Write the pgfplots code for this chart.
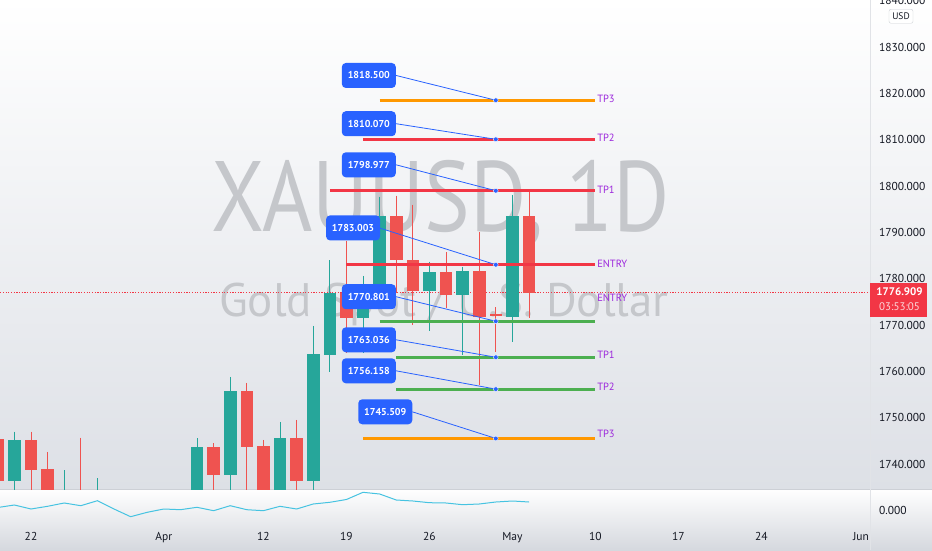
\documentclass[border=0pt]{standalone}
\usepackage{pgfplots}
\pgfplotsset{compat=1.18}
\usepackage{fontspec}
\setmainfont{PT Sans}
\definecolor{cup}{RGB}{38,166,154}
\definecolor{cdown}{RGB}{239,83,80}
\definecolor{lvred}{RGB}{242,54,69}
\definecolor{lvgreen}{RGB}{76,175,80}
\definecolor{lvorange}{RGB}{255,152,0}
\definecolor{boxblue}{RGB}{41,98,255}
\definecolor{tplbl}{RGB}{156,39,220}
\definecolor{wm}{RGB}{197,199,203}
\definecolor{bgb}{RGB}{221,224,230}
\definecolor{bgc}{RGB}{213,216,222}
\definecolor{ind}{RGB}{70,195,225}
\definecolor{txt}{RGB}{19,23,34}
\definecolor{sep}{RGB}{205,208,214}
\definecolor{pricered}{RGB}{242,54,69}

% candle: index, open, high, low, close
\newcommand\candle[5]{%
  \ifdim #5pt<#2pt \def\cc{cdown}\else\def\cc{cup}\fi
  \pgfmathsetmacro\candL{#1-0.38}\pgfmathsetmacro\candR{#1+0.38}%
  \edef\next{%
    \noexpand\addplot[draw=\cc, line width=1pt, forget plot] coordinates {(#1,#3) (#1,#4)};%
    \noexpand\addplot[fill=\cc, draw=none, forget plot] coordinates {(\candL,#2) (\candR,#2) (\candR,#5) (\candL,#5)};%
  }\next}

\begin{document}
\begin{tikzpicture}[x=1pt,y=1pt]
\useasboundingbox (0,0) rectangle (932,550);
\clip (0,0) rectangle (932,550);
\shade[top color=white, bottom color=bgb] (0,61) rectangle (932,550);
\shade[top color=white, bottom color=bgc] (0,0) rectangle (932,61);
\draw[line width=1pt, sep] (0,61) -- (932,61);
\draw[line width=0.6pt, sep!60!white] (870,0) -- (870,550);
% watermark
\node[anchor=base west, inner sep=0, text=wm, font=\fontsize{100}{100}\selectfont, xscale=0.86] at (211.7,318.3) {XAUUSD, 1D};
\node[anchor=base west, inner sep=0, text=wm, font=\fontsize{47}{47}\selectfont] at (219,233.3) {Gold Spot / U.S. Dollar};

\begin{axis}[at={(0pt,61pt)}, anchor=south west, scale only axis,
  width=870pt, height=489pt,
  xmin=-1.8675, xmax=50.54, ymin=1734.60, ymax=1840.14,
  axis line style={draw=none}, tick style={draw=none},
  xtick=\empty,
  ytick={1740,1750,...,1840},
  yticklabels={1740.000,1750.000,1760.000,1770.000,1780.000,1790.000,1800.000,1810.000,1820.000,1830.000,1840.000},
  yticklabel pos=right,
  yticklabel style={anchor=west, xshift=5.5pt, font=\fontsize{11.5}{12}\selectfont, text=txt},
  clip=true]
% current price line
\addplot[draw=pricered, line width=1pt, dash pattern=on 1.2pt off 1.5pt, forget plot] coordinates {(-3,1776.909) (52,1776.909)};
% candles
\candle{-2}{1745.4}{1746.5}{1730}{1736.4}
\candle{-1}{1736.4}{1747.0}{1730}{1745.2}
\candle{0}{1745.2}{1747.0}{1730}{1738.7}
\candle{1}{1738.9}{1742.6}{1725}{1728}
\candle{2}{1720}{1738.7}{1715}{1730}
\candle{3}{1731}{1745.7}{1718}{1722}
\candle{4}{1715}{1736.9}{1710}{1728}
\candle{10}{1728}{1745.5}{1725}{1743.6}
\candle{11}{1743.6}{1744.5}{1727}{1737.6}
\candle{12}{1737.6}{1758.8}{1731}{1755.8}
\candle{13}{1755.8}{1757.5}{1732}{1743.6}
\candle{14}{1743.9}{1745.2}{1731}{1733}
\candle{15}{1733}{1749.1}{1731}{1745.5}
\candle{16}{1745.5}{1749.5}{1733}{1736.4}
\candle{17}{1736.4}{1769.8}{1733}{1763.7}
\candle{18}{1763.5}{1784.0}{1759.9}{1776.8}
\candle{19}{1776.8}{1788.2}{1764}{1771.4}
\candle{20}{1771.4}{1780.6}{1764}{1778}
\candle{21}{1777.5}{1797.7}{1776}{1793.6}
\candle{22}{1793.6}{1797.9}{1777}{1784.0}
\candle{23}{1784.0}{1796.0}{1770.0}{1777.3}
\candle{24}{1777.3}{1783.7}{1768.8}{1781.4}
\candle{25}{1781.4}{1785.8}{1773.6}{1776.5}
\candle{26}{1776.5}{1782.6}{1763.5}{1781.7}
\candle{27}{1781.7}{1790.1}{1757.0}{1771.8}
\candle{28}{1772.3}{1773.8}{1764.2}{1771.9}
\candle{29}{1771.8}{1798.1}{1766.3}{1793.6}
\candle{30}{1793.6}{1798.8}{1771.4}{1776.9}
% level lines
\addplot[lvorange, line width=3pt] coordinates {(21,1818.5) (33.95,1818.5)};
\addplot[lvred, line width=3pt] coordinates {(20,1810.07) (33.95,1810.07)};
\addplot[lvred, line width=3pt] coordinates {(18,1798.977) (33.95,1798.977)};
\addplot[lvred, line width=3pt] coordinates {(19,1783.003) (33.95,1783.003)};
\addplot[lvgreen, line width=3pt] coordinates {(21,1770.801) (33.95,1770.801)};
\addplot[lvgreen, line width=3pt] coordinates {(22,1763.036) (33.95,1763.036)};
\addplot[lvgreen, line width=3pt] coordinates {(22,1756.158) (33.95,1756.158)};
\addplot[lvorange, line width=3pt] coordinates {(20,1745.509) (33.95,1745.509)};
% connectors
\addplot[boxblue, line width=0.8pt] coordinates {(21.99,1823.85) (28,1818.5)};
\addplot[boxblue, line width=0.8pt] coordinates {(21.99,1813.44) (28,1810.07)};
\addplot[boxblue, line width=0.8pt] coordinates {(21.99,1804.57) (28,1798.977)};
\addplot[boxblue, line width=0.8pt] coordinates {(20.98,1790.95) (28,1783.003)};
\addplot[boxblue, line width=0.8pt] coordinates {(21.99,1776.10) (28,1770.801)};
\addplot[boxblue, line width=0.8pt] coordinates {(21.99,1766.80) (28,1763.036)};
\addplot[boxblue, line width=0.8pt] coordinates {(21.99,1760.11) (28,1756.158)};
\addplot[boxblue, line width=0.8pt] coordinates {(22.97,1751.26) (28,1745.509)};
% anchor dots
\addplot[only marks, mark=*, mark size=2.4pt, mark options={fill=boxblue, draw=white, line width=0.4pt}] coordinates {(28,1818.5) (28,1810.07) (28,1798.977) (28,1783.003) (28,1770.801) (28,1763.036) (28,1756.158) (28,1745.509)};
% boxes
\tikzset{pbox/.style={fill=boxblue, rounded corners=4pt, minimum width=54pt, minimum height=25pt, inner sep=0pt, text=white, font=\bfseries\fontsize{10}{12}\selectfont}}
\node[pbox] at (axis cs:20.35,1823.85) {1818.500};
\node[pbox] at (axis cs:20.35,1813.44) {1810.070};
\node[pbox] at (axis cs:20.35,1804.57) {1798.977};
\node[pbox] at (axis cs:19.40,1790.95) {1783.003};
\node[pbox] at (axis cs:20.35,1776.10) {1770.801};
\node[pbox] at (axis cs:20.35,1766.80) {1763.036};
\node[pbox] at (axis cs:20.35,1760.11) {1756.158};
\node[pbox] at (axis cs:21.34,1751.26) {1745.509};
% labels
\tikzset{tpl/.style={anchor=west, inner sep=0pt, text=tplbl, font=\fontsize{10.5}{12}\selectfont}}
\node[tpl] at (axis cs:34.1,1818.7) {TP3};
\node[tpl] at (axis cs:34.1,1810.3) {TP2};
\node[tpl] at (axis cs:34.1,1799.2) {TP1};
\node[tpl] at (axis cs:34.1,1783.2) {ENTRY};
\node[tpl] at (axis cs:34.1,1775.8) {ENTRY};
\node[tpl] at (axis cs:34.1,1763.5) {TP1};
\node[tpl] at (axis cs:34.1,1756.6) {TP2};
\node[tpl] at (axis cs:34.1,1746.5) {TP3};
\end{axis}

\begin{axis}[at={(0pt,26pt)}, anchor=south west, scale only axis,
  width=870pt, height=35pt,
  xmin=-1.8675, xmax=50.54, ymin=-14, ymax=21,
  axis line style={draw=none}, tick style={draw=none},
  xtick={0,8,14,19,24,29,34,39,44,50},
  xticklabels={22,Apr,12,19,26,May,10,17,24,Jun},
  xticklabel style={anchor=base, yshift=-16pt, font=\fontsize{11.5}{12}\selectfont, text=txt},
  ytick={0}, yticklabels={0.000},
  yticklabel pos=right,
  yticklabel style={anchor=west, xshift=5.5pt, font=\fontsize{11.5}{12}\selectfont, text=txt},
  clip=true]
\addplot[ind, line width=1pt] coordinates {
(-2,2.5) (-1,5) (0,1) (1,3.7) (2,7) (3,4.3) (4,9.3) (5,1) (6,-6.7) (7,-2.3)
(8,1) (9,0.3) (10,2.7) (11,-0.7) (12,4.3) (13,0.3) (14,-0.7) (15,3.7) (16,1)
(17,6) (18,7.7) (19,10.5) (20,17.7) (21,16) (22,10) (23,9) (24,7.3) (25,7)
(26,5.3) (27,6) (28,8) (29,9) (30,8)};
\end{axis}

% current price tag
\fill[pricered] (870,233.3) rectangle (927,266.7);
\node[anchor=center, inner sep=0, text=white, font=\bfseries\fontsize{11}{12}\selectfont] at (899.5,258) {1776.909};
\node[anchor=center, inner sep=0, text=white!80!pricered, font=\fontsize{11}{12}\selectfont] at (899.5,243) {03:53:05};
% currency tag
\node[draw=sep, fill=white, rounded corners=2pt, inner sep=1.5pt, minimum width=24pt, minimum height=14pt, text=txt, font=\fontsize{9.5}{10}\selectfont] at (901,533.7) {USD};
\end{tikzpicture}
\end{document}
